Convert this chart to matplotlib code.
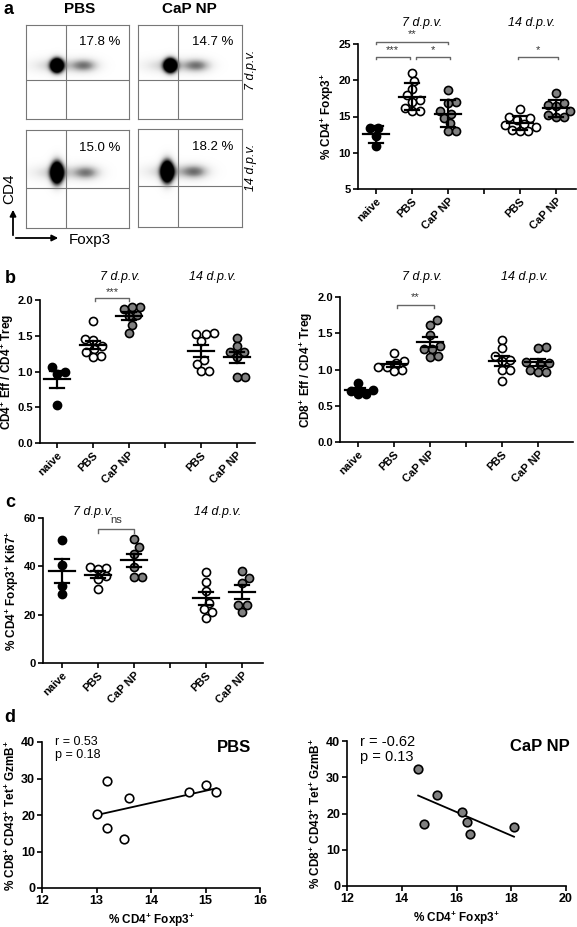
import numpy as np
import matplotlib
matplotlib.use('Agg')
import matplotlib.pyplot as plt

plt.rcParams['font.family'] = ['Liberation Sans', 'DejaVu Sans']
plt.rcParams['mathtext.fontset'] = 'custom'
plt.rcParams['mathtext.rm'] = 'Liberation Sans'
plt.rcParams['mathtext.bf'] = 'Liberation Sans:bold'
plt.rcParams['mathtext.it'] = 'Liberation Sans:italic'

# ===== DATA =====
groups = ['naive', 'PBS', 'CaP NP', 'PBS', 'CaP NP']
group_pos = [0, 1, 2, 4, 5]
group_fill = ['black', 'white', '#808080', 'white', '#808080']

# a: flow plots (quadrant %), gate positions and cell clusters (axes fractions)
flow_pct = ['17.8 %', '14.7 %', '15.0 %', '18.2 %']
flow_vline = [0.39, 0.385, 0.39, 0.385]
flow_hline = [0.415, 0.415, 0.41, 0.42]
core_x = [0.30, 0.31, 0.30, 0.28]
core_y = [0.57, 0.57, 0.56, 0.56]
core_sy = [0.05, 0.05, 0.075, 0.075]
tail_x = [0.57, 0.57, 0.59, 0.55]

# a: % CD4+ Foxp3+
a_naive = [13.4, 13.4, 12.3, 11.0]
a_pbs7 = [21.0, 19.9, 18.8, 17.9, 17.3, 17.0, 16.2, 15.7, 15.7]
a_cap7 = [18.6, 17.0, 16.8, 15.8, 15.3, 14.8, 14.1, 13.0, 13.0]
a_pbs14 = [16.0, 15.0, 14.8, 14.5, 14.0, 13.8, 13.5, 13.2, 13.0, 13.0]
a_cap14 = [18.2, 16.8, 16.6, 16.5, 15.8, 15.2, 14.9, 14.9]

# b: CD4+ Eff / CD4+ Treg
b1_naive = [1.06, 1.00, 0.97, 0.53]
b1_pbs7 = [1.70, 1.45, 1.44, 1.35, 1.32, 1.27, 1.22, 1.20]
b1_cap7 = [1.90, 1.90, 1.87, 1.79, 1.78, 1.65, 1.54]
b1_pbs14 = [1.54, 1.52, 1.52, 1.43, 1.16, 1.11, 1.01, 1.01]
b1_cap14 = [1.47, 1.35, 1.27, 1.27, 1.20, 0.92, 0.92]

# b: CD8+ Eff / CD4+ Treg
b2_naive = [0.81, 0.72, 0.71, 0.66, 0.66]
b2_pbs7 = [1.23, 1.12, 1.09, 1.04, 1.03, 1.00, 0.98]
b2_cap7 = [1.68, 1.62, 1.47, 1.33, 1.28, 1.28, 1.17, 1.19]
b2_pbs14 = [1.41, 1.29, 1.18, 1.13, 1.12, 0.99, 0.99, 0.84]
b2_cap14 = [1.31, 1.29, 1.10, 1.09, 1.08, 1.00, 0.97, 0.97]

# c: % CD4+ Foxp3+ Ki67+
c_naive = [51.0, 40.6, 32.0, 28.4]
c_pbs7 = [39.6, 39.5, 38.8, 36.0, 34.8, 30.5]
c_cap7 = [51.3, 47.9, 45.0, 39.9, 35.7, 35.7]
c_pbs14 = [37.7, 33.5, 29.8, 25.0, 22.3, 21.1, 18.6]
c_cap14 = [38.1, 35.2, 33.1, 24.0, 24.0, 21.1]

# d: correlations
d_pbs_x = [13.0, 13.2, 13.2, 13.6, 13.5, 14.7, 15.0, 15.2]
d_pbs_y = [20.2, 29.2, 16.4, 24.7, 13.4, 26.2, 28.2, 26.2]
d_cap_x = [14.6, 14.8, 15.3, 16.2, 16.4, 16.5, 18.1]
d_cap_y = [32.2, 17.1, 25.1, 20.5, 17.6, 14.3, 16.4]

W, H = 577, 927
fig = plt.figure(figsize=(W / 100, H / 100), dpi=100)


def rect(l, t, r, b):
    return [l / W, 1 - b / H, (r - l) / W, (b - t) / H]


def ftxt(x, y, s, **kw):
    kw.setdefault('ha', 'center')
    kw.setdefault('va', 'center')
    fig.text(x / W, 1 - y / H, s, **kw)


def swarm(ypx, d):
    """simple beeswarm: x offsets (px) so markers of diameter d don't overlap"""
    xs = np.zeros(len(ypx))
    placed = []
    for i in np.argsort(ypx):
        cands = [0.0]
        for j in placed:
            dy = ypx[i] - ypx[j]
            if abs(dy) < d:
                dx = np.sqrt(d * d - dy * dy)
                cands += [xs[j] + dx, xs[j] - dx]
        cands.sort(key=abs)
        for c in cands:
            if all((c - xs[j]) ** 2 + (ypx[i] - ypx[j]) ** 2 >= d * d - 1e-6 for j in placed):
                xs[i] = c
                break
        placed.append(i)
    return xs


def style_axes(ax, size=8):
    for s in ['top', 'right']:
        ax.spines[s].set_visible(False)
    for s in ['left', 'bottom']:
        ax.spines[s].set_linewidth(1.2)
    ax.tick_params(width=1.2, length=3.5, labelsize=size, pad=1.5)
    for lab in ax.get_xticklabels() + ax.get_yticklabels():
        lab.set_fontweight('bold')


def dot_panel(ax, data, px_rect, xlim, ylim, yticks, ylabel, err='sem'):
    l, t, r, b = px_rect
    sx = (r - l) / (xlim[1] - xlim[0])
    sy = (b - t) / (ylim[1] - ylim[0])
    for vals, p, fc in zip(data, group_pos, group_fill):
        vals = np.array(vals)
        offs = swarm(vals * sy, 8.3) / sx
        ax.scatter(p + offs, vals, s=34, facecolor=fc, edgecolor='black',
                   linewidth=1.2, zorder=2, clip_on=False)
        m = vals.mean()
        e = vals.std(ddof=1)
        if err == 'sem':
            e = e / np.sqrt(len(vals))
        ax.plot([p - 0.36, p + 0.36], [m, m], color='black', lw=1.6, zorder=3)
        ax.plot([p, p], [m - e, m + e], color='black', lw=1.6, zorder=3)
        for yy in (m - e, m + e):
            ax.plot([p - 0.2, p + 0.2], [yy, yy], color='black', lw=1.6, zorder=3)
    ax.set_xlim(xlim)
    ax.set_ylim(ylim)
    ax.set_yticks(yticks)
    ax.set_xticks([0, 1, 2, 3, 4, 5])
    ax.set_xticklabels(['naive', 'PBS', 'CaP NP', '', 'PBS', 'CaP NP'],
                       rotation=45, ha='right', rotation_mode='anchor')
    ax.set_ylabel(ylabel, fontsize=8.5, fontweight='bold', labelpad=2)
    style_axes(ax)


def bracket(ax, x0, x1, y, h, label, ly):
    ax.plot([x0, x0, x1, x1], [y - h, y, y, y - h], color='#666666', lw=1.0,
            clip_on=False)
    ax.text((x0 + x1) / 2, ly, label, ha='center', va='center', fontsize=8,
            color='#333333', clip_on=False)


# ---------- panel a: flow cytometry ----------
flow_rects = [(26, 25, 129, 119), (138, 25, 242, 119),
              (26, 130, 129, 228), (138, 129, 242, 227)]
gx, gy = np.meshgrid(np.linspace(0, 1, 220), np.linspace(0, 1, 220))
for k, pr in enumerate(flow_rects):
    ax = fig.add_axes(rect(*pr))
    dens = (2.5 * np.exp(-((gx - core_x[k]) ** 2 / (2 * 0.04 ** 2)
                           + (gy - core_y[k]) ** 2 / (2 * core_sy[k] ** 2)))
            + 0.55 * np.exp(-((gx - tail_x[k]) ** 2 / (2 * 0.09 ** 2)
                              + (gy - core_y[k]) ** 2 / (2 * 0.05 ** 2)))
            + 0.3 * np.exp(-((gx - 0.30) ** 2 / (2 * 0.17 ** 2)
                             + (gy - core_y[k]) ** 2 / (2 * 0.055 ** 2))))
    ax.imshow(np.clip(dens, 0, 1), extent=[0, 1, 0, 1], origin='lower',
              cmap='Greys', vmin=0, vmax=1, aspect='auto', interpolation='bilinear')
    ax.axvline(flow_vline[k], color='#777777', lw=0.8)
    ax.axhline(flow_hline[k], color='#777777', lw=0.8)
    ax.text(0.72, 0.82, flow_pct[k], transform=ax.transAxes, ha='center',
            va='center', fontsize=9.5)
    ax.set_xticks([])
    ax.set_yticks([])
    for s in ax.spines.values():
        s.set_color('#777777')
        s.set_linewidth(0.8)

ftxt(9, 10, 'a', fontsize=13, fontweight='bold')
ftxt(80, 9, 'PBS', fontsize=11, fontweight='bold')
ftxt(189, 9, 'CaP NP', fontsize=11, fontweight='bold')
ftxt(251, 70, '7 d.p.v.', fontsize=9, style='italic', rotation=90)
ftxt(251, 167, '14 d.p.v.', fontsize=9, style='italic', rotation=90)
ftxt(9, 189, 'CD4', fontsize=11, rotation=90)
ftxt(90, 240, 'Foxp3', fontsize=11)
fig.add_artist(matplotlib.patches.FancyArrowPatch(
    (13 / W, 1 - 238 / H), (13 / W, 1 - 207 / H), transform=fig.transFigure,
    arrowstyle='-|>', mutation_scale=9, lw=1.3, color='black'))
fig.add_artist(matplotlib.patches.FancyArrowPatch(
    (13 / W, 1 - 238 / H), (61 / W, 1 - 238 / H), transform=fig.transFigure,
    arrowstyle='-|>', mutation_scale=9, lw=1.3, color='black'))

# ---------- panel a: % CD4+ Foxp3+ ----------
pr = (358, 44, 576, 189)
ax = fig.add_axes(rect(*pr))
dot_panel(ax, [a_naive, a_pbs7, a_cap7, a_pbs14, a_cap14], pr, (-0.5, 5.55),
          (5, 25), [5, 10, 15, 20, 25],
          r'% CD4$^{\mathbf{+}}$ Foxp3$^{\mathbf{+}}$', err='sd')
bracket(ax, 0, 2, 25.3, 0.35, '**', 26.3)
bracket(ax, 0, 0.93, 23.25, 0.35, '***', 24.2)
bracket(ax, 1.1, 2.05, 23.25, 0.35, '*', 24.2)
bracket(ax, 3.94, 5.05, 23.25, 0.35, '*', 24.2)
ftxt(422, 23, '7 d.p.v.', fontsize=9, style='italic')
ftxt(532, 23, '14 d.p.v.', fontsize=9, style='italic')

# ---------- panel b ----------
ftxt(10, 278, 'b', fontsize=13, fontweight='bold')
pr = (40, 300, 255, 443)
ax = fig.add_axes(rect(*pr))
dot_panel(ax, [b1_naive, b1_pbs7, b1_cap7, b1_pbs14, b1_cap14], pr, (-0.47, 5.5),
          (0, 2.0), [0, 0.5, 1.0, 1.5, 2.0],
          r'CD4$^{\mathbf{+}}$ Eff / CD4$^{\mathbf{+}}$ Treg')
ax.yaxis.set_major_formatter(matplotlib.ticker.FormatStrFormatter('%.1f'))
style_axes(ax)
ax.yaxis.labelpad = 1
bracket(ax, 1.05, 2.0, 2.03, 0.04, '***', 2.11)
ftxt(120, 277, '7 d.p.v.', fontsize=9, style='italic')
ftxt(213, 277, '14 d.p.v.', fontsize=9, style='italic')

pr = (340, 297, 573, 442)
ax = fig.add_axes(rect(*pr))
dot_panel(ax, [b2_naive, b2_pbs7, b2_cap7, b2_pbs14, b2_cap14], pr, (-0.5, 5.97),
          (0, 2.0), [0, 0.5, 1.0, 1.5, 2.0],
          r'CD8$^{\mathbf{+}}$ Eff / CD4$^{\mathbf{+}}$ Treg')
ax.yaxis.set_major_formatter(matplotlib.ticker.FormatStrFormatter('%.1f'))
style_axes(ax)
bracket(ax, 1.08, 2.1, 1.89, 0.04, '**', 2.0)
ftxt(422, 277, '7 d.p.v.', fontsize=9, style='italic')
ftxt(525, 277, '14 d.p.v.', fontsize=9, style='italic')

# ---------- panel c ----------
ftxt(10, 503, 'c', fontsize=13, fontweight='bold')
pr = (43, 518, 263, 663)
ax = fig.add_axes(rect(*pr))
dot_panel(ax, [c_naive, c_pbs7, c_cap7, c_pbs14, c_cap14], pr, (-0.53, 5.58),
          (0, 60), [0, 20, 40, 60],
          r'% CD4$^{\mathbf{+}}$ Foxp3$^{\mathbf{+}}$ Ki67$^{\mathbf{+}}$')
bracket(ax, 1, 2, 55.5, 1.5, 'ns', 59.0)
ftxt(93, 512, '7 d.p.v.', fontsize=9, style='italic')
ftxt(218, 512, '14 d.p.v.', fontsize=9, style='italic')

# ---------- panel d ----------
ftxt(10, 718, 'd', fontsize=13, fontweight='bold')
d_ylabel = (r'% CD8$^{\mathbf{+}}$ CD43$^{\mathbf{+}}$ Tet$^{\mathbf{+}}$ '
            r'GzmB$^{\mathbf{+}}$')
d_xlabel = r'% CD4$^{\mathbf{+}}$ Foxp3$^{\mathbf{+}}$'
for pr, xs, ys, fc, xlim, xt, title, stats, fs in [
        ((42, 742, 260, 888), d_pbs_x, d_pbs_y, 'white', (12, 16),
         [12, 13, 14, 15, 16], 'PBS', 'r = 0.53\np = 0.18', 9),
        ((347, 741, 566, 886), d_cap_x, d_cap_y, '#808080', (12, 20),
         [12, 14, 16, 18, 20], 'CaP NP', 'r = -0.62\np = 0.13', 10.5)]:
    ax = fig.add_axes(rect(*pr))
    xs = np.array(xs)
    ys = np.array(ys)
    k, b0 = np.polyfit(xs, ys, 1)
    xx = np.array([xs.min(), xs.max()])
    ax.plot(xx, k * xx + b0, color='black', lw=1.3, zorder=1)
    ax.scatter(xs, ys, s=38, facecolor=fc, edgecolor='black', linewidth=1.2,
               zorder=2)
    ax.set_xlim(xlim)
    ax.set_ylim(0, 40)
    ax.set_xticks(xt)
    ax.set_yticks([0, 10, 20, 30, 40])
    ax.set_xlabel(d_xlabel, fontsize=8.5, fontweight='bold', labelpad=3)
    ax.set_ylabel(d_ylabel, fontsize=8.5, fontweight='bold', labelpad=2)
    ax.text(0.06, 1.04, stats, transform=ax.transAxes, ha='left', va='top',
            fontsize=fs, linespacing=1.1)
    ax.text(0.88, 0.96, title, transform=ax.transAxes, ha='center', va='center',
            fontsize=12, fontweight='bold')
    style_axes(ax, size=9)

fig.savefig('out.png', dpi=100)
